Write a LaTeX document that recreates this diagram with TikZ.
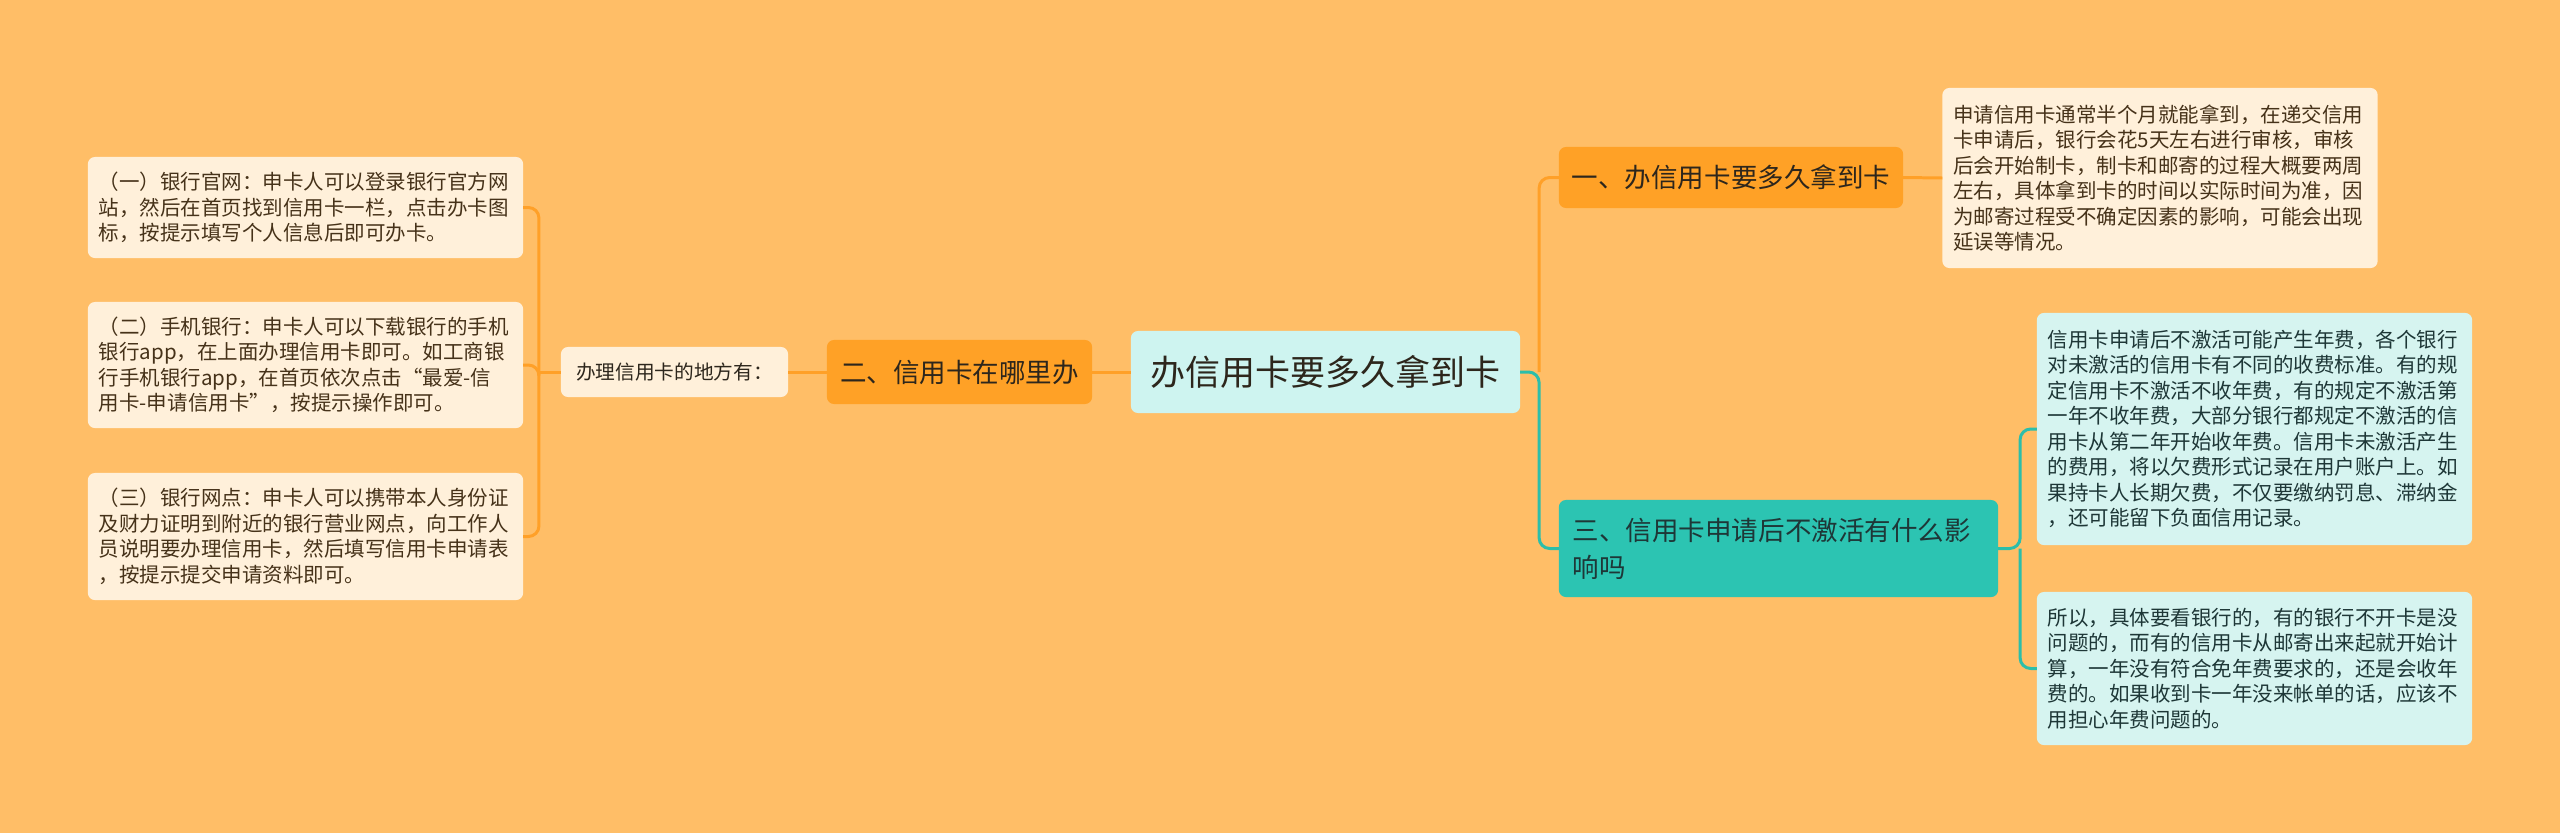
\documentclass[tikz,border=0pt]{standalone}
\usepackage{fontspec}
\setmainfont{Noto Sans CJK SC}
\usetikzlibrary{calc}
\definecolor{bgc}{RGB}{255,190,103}
\definecolor{branchc}{RGB}{255,161,38}
\definecolor{creamc}{RGB}{255,240,218}
\definecolor{rootc}{RGB}{206,244,240}
\definecolor{tealc}{RGB}{44,196,178}
\definecolor{tealleafc}{RGB}{214,244,240}
\definecolor{olinec}{RGB}{255,160,40}
\definecolor{tlinec}{RGB}{44,190,170}
\definecolor{browntxt}{RGB}{70,50,25}
\definecolor{darktxt}{RGB}{45,38,28}
\definecolor{tealtxt}{RGB}{30,55,55}

\begin{document}
\begin{tikzpicture}[x=0.01cm,y=-0.01cm,
    every node/.style={inner sep=0pt,outer sep=0pt},
    box/.style={rounded corners=2pt},
    leaf/.style={box,fill=creamc,text=browntxt,text width=4.13cm,align=left,
      inner xsep=0.11cm,font=\fontsize{5.83pt}{7.25pt}\selectfont},
    tealleaf/.style={leaf,fill=tealleafc,text=tealtxt},
    branch/.style={box,fill=branchc,text=darktxt,font=\fontsize{7.54pt}{10.5pt}\selectfont},
    oline/.style={draw=olinec,line width=0.85pt,rounded corners=3pt},
    tline/.style={draw=tlinec,line width=0.85pt,rounded corners=3pt}]

  \fill[bgc] (0,0) rectangle (2560,833);

  % centre
  \node[box,fill=rootc,text=darktxt,minimum width=3.89cm,minimum height=0.82cm,
    font=\fontsize{9.96pt}{12pt}\selectfont] (root) at (1325.5,372) {办信用卡要多久拿到卡};

  % left side
  \node[branch,minimum width=2.65cm,minimum height=0.64cm] (b2) at (959.5,372) {二、信用卡在哪里办};
  \node[box,fill=creamc,text=darktxt,minimum width=2.27cm,minimum height=0.5cm,
    font=\fontsize{5.6pt}{7pt}\selectfont] (lbl) at (674.5,372) {办理信用卡的地方有：};

  \node[leaf,minimum height=1.01cm] (leafA) at (305.5,207.5)
    {（一）银行官网：申卡人可以登录银行官方网\\站，然后在首页找到信用卡一栏，点击办卡图\\标，按提示填写个人信息后即可办卡。};
  \node[leaf,minimum height=1.26cm] (leafB) at (305.5,365)
    {（二）手机银行：申卡人可以下载银行的手机\\银行app，在上面办理信用卡即可。如工商银\\行手机银行app，在首页依次点击“最爱-信\\用卡-申请信用卡”，按提示操作即可。};
  \node[leaf,minimum height=1.27cm] (leafC) at (305.5,536.5)
    {（三）银行网点：申卡人可以携带本人身份证\\及财力证明到附近的银行营业网点，向工作人\\员说明要办理信用卡，然后填写信用卡申请表\\，按提示提交申请资料即可。};

  % right side
  \node[branch,minimum width=3.44cm,minimum height=0.61cm] (b1) at (1731,177.5) {一、办信用卡要多久拿到卡};
  \node[branch,fill=tealc,text=tealtxt,text width=4.11cm,align=left,inner xsep=0.14cm,
    minimum height=0.97cm] (b3) at (1778.5,548.5) {三、信用卡申请后不激活有什么影\\响吗};

  \node[leaf,minimum height=1.80cm] (leaf1) at (2160,178)
    {申请信用卡通常半个月就能拿到，在递交信用\\卡申请后，银行会花5天左右进行审核，审核\\后会开始制卡，制卡和邮寄的过程大概要两周\\左右，具体拿到卡的时间以实际时间为准，因\\为邮寄过程受不确定因素的影响，可能会出现\\延误等情况。};
  \node[tealleaf,minimum height=2.32cm] (leaf3a) at (2254.5,429)
    {信用卡申请后不激活可能产生年费，各个银行\\对未激活的信用卡有不同的收费标准。有的规\\定信用卡不激活不收年费，有的规定不激活第\\一年不收年费，大部分银行都规定不激活的信\\用卡从第二年开始收年费。信用卡未激活产生\\的费用，将以欠费形式记录在用户账户上。如\\果持卡人长期欠费，不仅要缴纳罚息、滞纳金\\，还可能留下负面信用记录。};
  \node[tealleaf,minimum height=1.53cm] (leaf3b) at (2254.5,668.5)
    {所以，具体要看银行的，有的银行不开卡是没\\问题的，而有的信用卡从邮寄出来起就开始计\\算，一年没有符合免年费要求的，还是会收年\\费的。如果收到卡一年没来帐单的话，应该不\\用担心年费问题的。};

  % connectors
  \draw[oline] (root.west) -- (b2.east);
  \draw[oline] (b2.west) -- (lbl.east);
  \coordinate (lj) at ($(lbl.west)+(-22,0)$);
  \draw[oline] (lj) -- (lbl.west);
  \foreach \l in {leafA,leafB,leafC} {
    \draw[oline] (\l.east) -| (lj);
  }
  \coordinate (rj) at ($(root.east)+(19,0)$);
  \draw[oline] (rj) |- (b1.west);
  \draw[tline] (root.east) -- (rj) |- (b3.west);
  \draw[oline] (b1.east) -- (leaf1.west);
  \coordinate (tj) at ($(b3.east)+(22,0)$);
  \draw[tline] (b3.east) -- (tj) |- (leaf3a.west);
  \draw[tline] (tj) |- (leaf3b.west);
\end{tikzpicture}
\end{document}
